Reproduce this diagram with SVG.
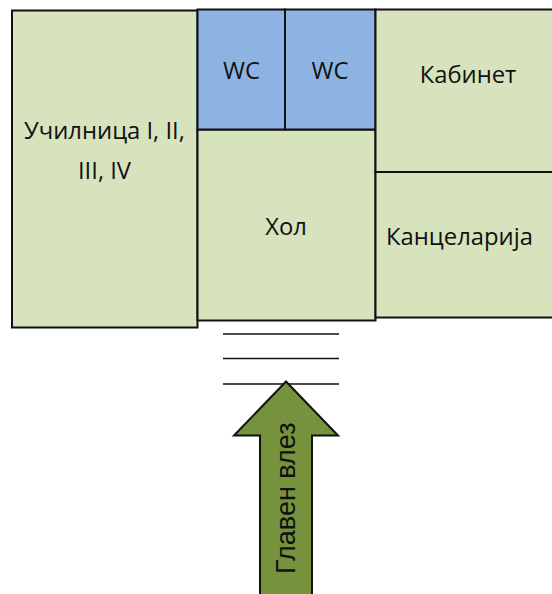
<svg xmlns="http://www.w3.org/2000/svg" width="552" height="594" viewBox="0 0 552 594">
<style>
.g{fill:#d7e3bc;stroke:#111;stroke-width:2}
.b{fill:#8db3e2;stroke:#111;stroke-width:2}
.t{font-family:"Open Sans","Noto Sans","Liberation Sans",sans-serif;font-size:23.800px;fill:#111;text-anchor:middle}
.l{stroke:#111;stroke-width:1.5}
</style>
<rect width="552" height="594" fill="#fff"/>
<g id="classroom"><rect class="g" x="12" y="10.500" width="185.500" height="317"/><text class="t" x="104.500" y="139">Училница I, II,</text><text class="t" x="104.500" y="179">III, IV</text></g>
<g id="hall"><rect class="g" x="197.500" y="129.500" width="178" height="191"/><text class="t" x="286" y="235">Хол</text></g>
<g id="wc1"><rect class="b" x="197.500" y="9.500" width="87.500" height="120"/><text class="t" x="241.500" y="79">WC</text></g>
<g id="wc2"><rect class="b" x="285" y="9.500" width="90.500" height="120"/><text class="t" x="330" y="79">WC</text></g>
<g id="office"><rect class="g" x="375.500" y="9.500" width="178" height="162.500"/><text class="t" x="468" y="83">Кабинет</text></g>
<g id="chancellery"><rect class="g" x="375.500" y="172" width="178" height="145.500"/><text class="t" x="459.500" y="245">Канцеларија</text></g>
<g id="steps"><line class="l" x1="223" y1="334" x2="339" y2="334"/><line class="l" x1="223" y1="358.500" x2="339" y2="358.500"/><line class="l" x1="223" y1="384" x2="339" y2="384"/></g>
<g id="entrance"><path d="M286 381.500L338 435.500H312V596H260V435.500H234Z" fill="#76923c" stroke="#111" stroke-width="2"/><text transform="translate(295 574) rotate(-90)" font-family="'Liberation Sans',sans-serif" font-size="27" fill="#111">Главен влез</text></g>
</svg>
